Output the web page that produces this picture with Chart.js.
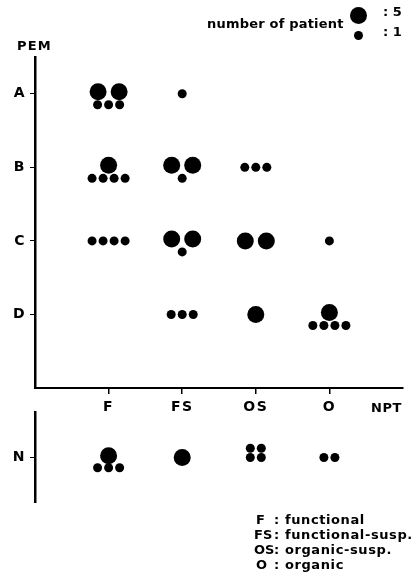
<!DOCTYPE html>
<html>
<head>
<meta charset="utf-8">
<script src="https://cdn.jsdelivr.net/npm/chart.js@4"></script>
<style>
  body { margin: 0; background: #fff; }
  #wrap { position: relative; width: 419px; height: 583px; font-family: "DejaVu Sans", sans-serif; font-weight: bold; color: #000; }
  canvas { position: absolute; left: 0; }
  .txt { position: absolute; white-space: nowrap; line-height: 1; font-size: 13px; }
  .dot { position: absolute; background: #000; border-radius: 50%; }
</style>
</head>
<body>
<div id="wrap">
  <canvas id="pemChart" width="419" height="420" style="top:0"></canvas>
  <canvas id="nChart" width="419" height="115" style="top:400px"></canvas>

  <div class="txt" style="left:207px; top:17px; letter-spacing:0.2px">number of patient</div>
  <div class="dot" style="left:350px; top:7px; width:17px; height:17px"></div>
  <div class="txt" style="left:383px; top:5px">: 5</div>
  <div class="dot" style="left:354px; top:31px; width:9px; height:9px"></div>
  <div class="txt" style="left:383px; top:25px">: 1</div>

  <div class="txt" style="left:17px; top:39px; letter-spacing:1.2px">PEM</div>
  <div class="txt" style="left:371px; top:401px; letter-spacing:0.5px">NPT</div>

  <div class="txt" style="left:256px; top:513px">F</div>
  <div class="txt" style="left:274px; top:513px; letter-spacing:0.6px">: functional</div>
  <div class="txt" style="left:254px; top:528px">FS</div>
  <div class="txt" style="left:274px; top:528px; letter-spacing:0.6px">: functional-susp.</div>
  <div class="txt" style="left:254px; top:543px">OS</div>
  <div class="txt" style="left:274px; top:543px; letter-spacing:0.6px">: organic-susp.</div>
  <div class="txt" style="left:256px; top:558px">O</div>
  <div class="txt" style="left:274px; top:558px; letter-spacing:0.6px">: organic</div>
</div>
<script>
const pemLevels = ['A', 'B', 'C', 'D'];
const nptTypes = ['F', 'FS', 'OS', 'O'];

// patients per NPT type (F, FS, OS, O) for each PEM grade
const patientsA = [13, 1, 0, 0];
const patientsB = [9, 11, 3, 0];
const patientsC = [4, 11, 10, 1];
const patientsD = [0, 3, 5, 9];
const patientsN = [8, 5, 4, 2];

// N / OS dots are stacked two per row in the original
const smallCols = { 'N-OS': 2 };

const PX = 73.5;       // pixels per axis unit (both charts)
const BIG_R = 8.5;     // one dot = 5 patients
const SMALL_R = 4.5;   // one dot = 1 patient

// split a count into 5-dots and 1-dots and cluster them round the cell centre
function cellDots(count, x, y, cols) {
    const big = Math.floor(count / 5);
    const small = count % 5;
    const pts = [];
    const bigDy = big && small ? 2 : 0;
    for (let i = 0; i < big; i++) {
        pts.push({ x: x + (i - (big - 1) / 2) * 21 / PX, y: y + bigDy / PX, r: BIG_R });
    }
    const perRow = cols || small;
    const rows = Math.ceil(small / perRow);
    for (let k = 0; k < small; k++) {
        const row = Math.floor(k / perRow);
        const col = k % perRow;
        const n = Math.min(perRow, small - row * perRow);
        const dx = (col - (n - 1) / 2) * 11;
        const dy = big ? -11 : (rows - 1 - row) * 10;
        pts.push({ x: x + dx / PX, y: y + dy / PX, r: SMALL_R });
    }
    return pts;
}

const pemRows = [patientsA, patientsB, patientsC, patientsD];
const mainDots = pemRows.flatMap((row, j) =>
    row.flatMap((c, i) => cellDots(c, i + 1, 4 - j, smallCols[pemLevels[j] + '-' + nptTypes[i]])));
const nDots = patientsN.flatMap((c, i) => cellDots(c, i + 1, 0, smallCols['N-' + nptTypes[i]]));

const tickFont = { family: 'DejaVu Sans', size: 14, weight: 'bold' };
const spacing = { id: 'spacing', beforeDraw: c => { c.ctx.letterSpacing = '1.5px'; } };

const dotSet = data => ({ data, backgroundColor: '#000', borderWidth: 0, hoverRadius: 0 });

const yAxis = (min, max, values, label) => ({
    type: 'linear', min, max,
    afterBuildTicks: s => { s.ticks = values.map(v => ({ value: v })); },
    afterFit: s => { s.width = 35; },
    ticks: { callback: label, color: '#000', font: tickFont, padding: 4, autoSkip: false },
    grid: { drawOnChartArea: false, tickLength: 5, color: '#000', lineWidth: 1 },
    border: { color: '#000', width: 2.5 }
});

new Chart(document.getElementById('pemChart'), {
    type: 'bubble',
    data: { datasets: [dotSet(mainDots)] },
    options: {
        responsive: false,
        animation: false,
        devicePixelRatio: 1,
        layout: { padding: { top: 57, right: 16 } },
        plugins: { legend: { display: false }, tooltip: { enabled: false } },
        scales: {
            x: {
                type: 'linear', min: 0, max: 5,
                afterBuildTicks: s => { s.ticks = nptTypes.map((t, i) => ({ value: i + 1 })); },
                afterFit: s => { s.height = 32; },
                ticks: { callback: v => nptTypes[v - 1], color: '#000', font: tickFont, padding: 5, maxRotation: 0, autoSkip: false },
                grid: { drawOnChartArea: false, tickLength: 6, color: '#000', lineWidth: 1.5 },
                border: { color: '#000', width: 2 }
            },
            y: yAxis(0, 4.5, [1, 2, 3, 4], v => pemLevels[4 - v])
        }
    },
    plugins: [spacing]
});

new Chart(document.getElementById('nChart'), {
    type: 'bubble',
    data: { datasets: [dotSet(nDots)] },
    options: {
        responsive: false,
        animation: false,
        devicePixelRatio: 1,
        layout: { padding: { top: 10, right: 16, bottom: 8 } },
        plugins: { legend: { display: false }, tooltip: { enabled: false } },
        scales: {
            x: { type: 'linear', min: 0, max: 5, display: false },
            y: yAxis(-0.66, 0.66, [0], () => 'N')
        }
    },
    plugins: [spacing]
});
</script>
</body>
</html>
